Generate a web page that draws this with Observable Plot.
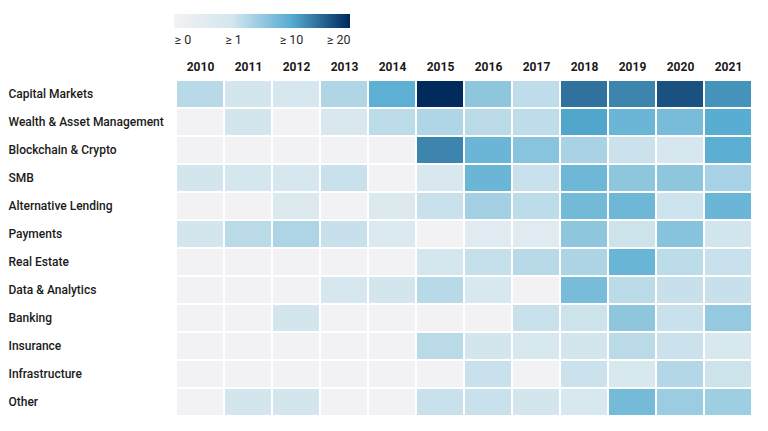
<!DOCTYPE html>
<html><head><meta charset="utf-8">
<script src="https://cdn.jsdelivr.net/npm/d3@7"></script>
<script src="https://cdn.jsdelivr.net/npm/@observablehq/plot@0.6"></script>
<style>
body{margin:0;background:#fff;font-family:Roboto,sans-serif;}
#legend{height:48px;padding-left:162px;}
#legend svg{display:block;}
#legend line{display:none;}
#legend text{font-family:Roboto,sans-serif !important;font-size:12.5px !important;fill:#2a2a2a !important;}
#chart svg{display:block;}
</style></head><body>
<div id="legend"></div><div id="chart"></div>
<script>
const years = [2010, 2011, 2012, 2013, 2014, 2015, 2016, 2017, 2018, 2019, 2020, 2021];
const sectors = ["Capital Markets", "Wealth & Asset Management", "Blockchain & Crypto", "SMB", "Alternative Lending", "Payments", "Real Estate", "Data & Analytics", "Banking", "Insurance", "Infrastructure", "Other"];

const capitalMarkets = [3, 1, 0.9, 3.5, 9.5, 20, 6, 2.5, 14.5, 13, 17, 12];
const wealthAsset = [0, 1, 0, 0.8, 2.6, 3.6, 2.8, 2.5, 10.5, 8.5, 7.5, 9.8];
const blockchain = [0, 0, 0, 0, 0, 13, 8.5, 6.3, 4, 1.6, 0.9, 9.6];
const smb = [1, 0.95, 0.9, 1.7, 0, 0.8, 8.5, 1.7, 8.3, 6, 6, 4.2];
const altLending = [0, 0, 0.7, 0, 0.7, 1.7, 4.4, 2.6, 7.9, 8.3, 1.4, 8.5];
const payments = [1, 2.8, 3.7, 1.9, 0.75, 0, 0.6, 0.6, 6, 1.5, 6.5, 1.2];
const realEstate = [0, 0, 0, 0, 0, 0.95, 2, 3, 3.8, 8.6, 2.6, 1.8];
const dataAnalytics = [0, 0, 0, 0.9, 1, 3, 0.85, 0, 7.5, 2.7, 1.9, 1.9];
const banking = [0, 0, 1, 0, 0, 0, 0, 1.8, 1.5, 6, 1.7, 5.5];
const insurance = [0, 0, 0, 0, 0, 2.8, 1, 0.85, 1, 2.8, 1.6, 0.85];
const infrastructure = [0, 0, 0, 0, 0, 0, 1.8, 0, 1.6, 0.85, 3.3, 1.5];
const other = [0, 1, 1, 0, 0, 1.7, 1.8, 1, 0.85, 7.8, 5, 4.8];

const legendTicks = [0, 1, 10, 20];

const rows = [capitalMarkets, wealthAsset, blockchain, smb, altLending, payments, realEstate, dataAnalytics, banking, insurance, infrastructure, other];
const data = [];
rows.forEach((vals, i) => vals.forEach((v, j) => data.push({sector: sectors[i], year: years[j], value: v})));

const chart = Plot.plot({
  width: 768, height: 383,
  marginLeft: 174, marginRight: 14, marginTop: 30, marginBottom: 13,
  style: {fontFamily: "Roboto, sans-serif", fontSize: "12px", color: "#1a1a1a", background: "#fff"},
  x: {domain: years, padding: 0},
  y: {domain: sectors, padding: 0},
  color: {type: "linear", domain: legendTicks, range: ["#f2f2f4", "#d3e6ee", "#56acd2", "#012a5d"], clamp: true, label: null},
  marks: [
    Plot.cell(data, {x: "year", y: "sector", fill: "value", inset: 1}),
    Plot.axisX({anchor: "top", tickSize: 0, tickPadding: 8, fontWeight: "bold", fontSize: 12, label: null, tickFormat: d => `${d}`}),
    Plot.axisY({tickSize: 0, tickPadding: 166, textAnchor: "start", fontWeight: 500, fontSize: 12, label: null, dy: -0.5})
  ]
});
document.getElementById("chart").appendChild(chart);

const legend = chart.legend("color", {
  label: null,
  width: 200, height: 48, marginLeft: 12, marginRight: 12, marginTop: 14, marginBottom: 20,
  tickSize: 4, ticks: legendTicks, tickFormat: d => `≥ ${d}`,
  style: {fontFamily: "Roboto, sans-serif", fontSize: "12.5px", color: "#2a2a2a", overflow: "visible"}
});
document.getElementById("legend").appendChild(legend);
const texts = legend.querySelectorAll(".tick text");
if (texts.length) {
  texts[0].setAttribute("text-anchor", "start");
  texts[texts.length - 1].setAttribute("text-anchor", "end");
}
</script>
</body></html>
